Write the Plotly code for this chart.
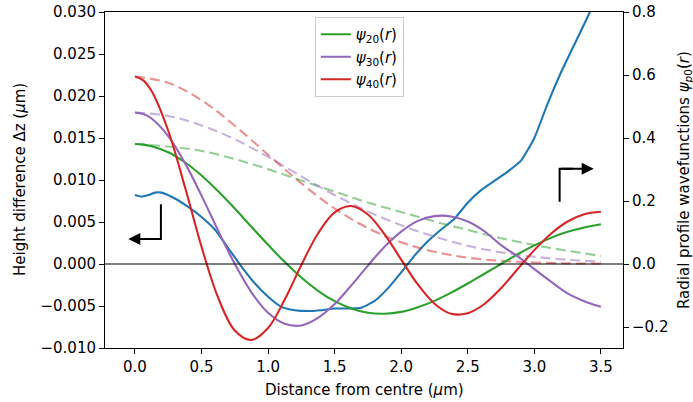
import plotly.graph_objects as go

# ---------------- data ----------------
# Measured height difference (left axis, micrometres)
blue_r = [0.0, 0.05, 0.1, 0.15, 0.2, 0.3, 0.4, 0.5, 0.6, 0.7, 0.8, 0.9, 1.0, 1.1, 1.2, 1.3,
          1.4, 1.5, 1.6, 1.7, 1.8, 1.9, 2.0, 2.1, 2.2, 2.3, 2.4, 2.5, 2.6, 2.7, 2.8, 2.9,
          3.0, 3.1, 3.2, 3.3, 3.4, 3.45]
blue_dz = [0.0082, 0.0080, 0.0082, 0.0085, 0.0085, 0.0078, 0.0068, 0.0056, 0.0041, 0.0019,
           -0.0003, -0.0023, -0.0039, -0.0051, -0.0055, -0.0056, -0.0055, -0.0053, -0.0053,
           -0.0052, -0.0044, -0.0029, -0.0010, 0.0010, 0.0027, 0.0041, 0.0054, 0.0073,
           0.0088, 0.0099, 0.0110, 0.0123, 0.0150, 0.0191, 0.0228, 0.0261, 0.0294, 0.0312]

# Radial profile wavefunctions (right axis)
psi_r = [0.0, 0.0625, 0.125, 0.25, 0.375, 0.5, 0.625, 0.75, 0.875, 1.0, 1.125, 1.25, 1.375,
         1.5, 1.625, 1.75, 1.875, 2.0, 2.125, 2.25, 2.375, 2.5, 2.625, 2.75, 2.875, 3.0,
         3.125, 3.25, 3.375, 3.5]
psi20 = [0.381, 0.379, 0.374, 0.355, 0.323, 0.281, 0.231, 0.176, 0.118, 0.061, 0.006,
         -0.043, -0.085, -0.118, -0.141, -0.155, -0.158, -0.152, -0.137, -0.117, -0.091,
         -0.062, -0.031, 0.0, 0.031, 0.059, 0.083, 0.102, 0.116, 0.126]
psi30 = [0.481, 0.476, 0.462, 0.406, 0.321, 0.217, 0.106, 0.0, -0.090, -0.155, -0.190,
         -0.195, -0.171, -0.127, -0.068, -0.005, 0.055, 0.103, 0.137, 0.152, 0.151, 0.135,
         0.104, 0.060, 0.024, -0.016, -0.056, -0.093, -0.118, -0.136]
psi40 = [0.595, 0.583, 0.549, 0.423, 0.245, 0.055, -0.107, -0.211, -0.241, -0.203,
         -0.113, -0.003, 0.097, 0.164, 0.184, 0.157, 0.094, 0.014, -0.065, -0.126, -0.158,
         -0.156, -0.127, -0.077, -0.016, 0.044, 0.096, 0.135, 0.158, 0.166]

# Envelopes (dashed, right axis), sampled every 0.25 um
env_r = [0.0, 0.25, 0.5, 0.75, 1.0, 1.25, 1.5, 1.75, 2.0, 2.25, 2.5, 2.75, 3.0, 3.25, 3.5]
env20 = [0.381, 0.373, 0.359, 0.333, 0.301, 0.265, 0.230, 0.195, 0.165, 0.135, 0.108,
         0.082, 0.060, 0.042, 0.0255]
env30 = [0.481, 0.470, 0.440, 0.396, 0.340, 0.278, 0.219, 0.167, 0.123, 0.087, 0.058,
         0.037, 0.023, 0.0134, 0.0076]
env40 = [0.595, 0.575, 0.520, 0.439, 0.347, 0.256, 0.176, 0.114, 0.069, 0.039, 0.020,
         0.010, 0.0046, 0.002, 0.0008]

legend_labels = ["<i>ψ</i><sub>20</sub>(<i>r</i>)",
                 "<i>ψ</i><sub>30</sub>(<i>r</i>)",
                 "<i>ψ</i><sub>40</sub>(<i>r</i>)"]

x_ticks = [0.0, 0.5, 1.0, 1.5, 2.0, 2.5, 3.0, 3.5]
left_ticks = [-0.010, -0.005, 0.0, 0.005, 0.010, 0.015, 0.020, 0.025, 0.030]
right_ticks = [-0.2, 0.0, 0.2, 0.4, 0.6, 0.8]

# ---------------- styling ----------------
FONT = "DejaVu Sans"
FS = 15
BLUE, GREEN, PURPLE, RED = "#1f77b4", "#2ca02c", "#9467bd", "#d62728"
LW = 2.1

fig = go.Figure()

fig.add_trace(go.Scatter(x=blue_r, y=blue_dz, mode="lines", yaxis="y",
                         line=dict(color=BLUE, width=LW, shape="spline", smoothing=0.5),
                         showlegend=False))

for v, c in [(env20, GREEN), (env30, PURPLE), (env40, RED)]:
    fig.add_trace(go.Scatter(x=env_r, y=v, mode="lines", yaxis="y2", opacity=0.5,
                             line=dict(color=c, width=LW, dash="10px,5px",
                                       shape="spline", smoothing=1.0),
                             showlegend=False))

for i, (v, c) in enumerate([(psi20, GREEN), (psi30, PURPLE), (psi40, RED)]):
    fig.add_trace(go.Scatter(x=psi_r, y=v, mode="lines", yaxis="y2", name=legend_labels[i],
                             legendgroup=f"g{i}",
                             line=dict(color=c, width=LW, shape="spline", smoothing=1.0)))

axis_common = dict(showgrid=False, zeroline=False, ticks="outside", ticklen=5,
                   tickwidth=1, tickcolor="black", linecolor="black", linewidth=1,
                   showline=True, automargin=False,
                   tickfont=dict(family=FONT, size=FS, color="black"))

fig.update_layout(
    width=693, height=402,
    margin=dict(l=105, r=70, t=12, b=54, autoexpand=False),
    paper_bgcolor="white", plot_bgcolor="white",
    font=dict(family=FONT, size=FS, color="black"),
    xaxis=dict(range=[-0.225, 3.666], tickvals=x_ticks,
               ticktext=[f"{t:.1f}" for t in x_ticks], mirror=True, **axis_common),
    yaxis=dict(range=[-0.010, 0.030], tickvals=left_ticks,
               ticktext=[f"{t:.3f}".replace("-", "−") for t in left_ticks], **axis_common),
    yaxis2=dict(range=[-0.8 / 3, 0.8], overlaying="y", side="right", tickvals=right_ticks,
                ticktext=[f"{t:.1f}".replace("-", "−") for t in right_ticks], **axis_common),
    legend=dict(x=0.405, y=0.985, xanchor="left", yanchor="top",
                bgcolor="rgba(255,255,255,0.8)", bordercolor="#cccccc", borderwidth=1,
                font=dict(family=FONT, size=FS), itemwidth=30, tracegroupgap=0),
    showlegend=True,
)

# zero line
fig.add_shape(type="line", xref="paper", yref="y", x0=0, x1=1, y0=0, y1=0,
              line=dict(color="black", width=1))

# direction arrows (annotations)
LA_X, LA_TOP, LA_Y, LA_TIP = 0.195, 0.0071, 0.00298, -0.05
RA_X, RA_BOT, RA_Y, RA_TIP = 3.19, 0.198, 0.302, 3.446
fig.add_shape(type="path", xref="x", yref="y",
              path=f"M {LA_X},{LA_TOP} L {LA_X},{LA_Y} L {LA_X - 0.1},{LA_Y}",
              line=dict(color="black", width=2))
fig.add_annotation(x=LA_TIP, y=LA_Y, ax=LA_X, ay=LA_Y, xref="x", yref="y",
                   axref="x", ayref="y", text="", showarrow=True, arrowhead=2,
                   arrowsize=1.2, arrowwidth=2, arrowcolor="black")
fig.add_shape(type="path", xref="x", yref="y2",
              path=f"M {RA_X},{RA_BOT} L {RA_X},{RA_Y} L {RA_X + 0.1},{RA_Y}",
              line=dict(color="black", width=2))
fig.add_annotation(x=RA_TIP, y=RA_Y, ax=RA_X, ay=RA_Y, xref="x", yref="y2",
                   axref="x", ayref="y2", text="", showarrow=True, arrowhead=2,
                   arrowsize=1.2, arrowwidth=2, arrowcolor="black")

# axis titles
fig.add_annotation(text="Height difference Δz (<i>μ</i>m)", xref="paper", yref="paper",
                   x=(20 - 105) / 518, y=0.5, xanchor="center", yanchor="middle",
                   textangle=-90, showarrow=False, font=dict(family=FONT, size=FS))
fig.add_annotation(text="Radial profile wavefunctions <i>ψ</i><sub><i>p</i>0</sub>(<i>r</i>)",
                   xref="paper", yref="paper", x=(684 - 105) / 518, y=0.5,
                   xanchor="center", yanchor="middle", textangle=-90, showarrow=False,
                   font=dict(family=FONT, size=FS))
fig.add_annotation(text="Distance from centre (<i>μ</i>m)", xref="paper", yref="paper",
                   x=0.5, y=-(390 - 348) / 336, xanchor="center", yanchor="middle",
                   showarrow=False, font=dict(family=FONT, size=FS))

fig.write_html("out.html", config={"displayModeBar": False},
               post_script="document.body.style.margin='0';"
                           "document.body.style.overflow='hidden';")
